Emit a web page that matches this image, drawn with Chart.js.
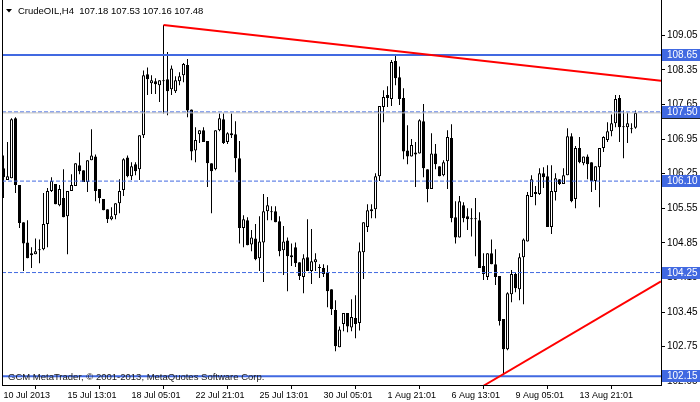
<!DOCTYPE html>
<html><head><meta charset="utf-8">
<script src="https://cdn.jsdelivr.net/npm/chart.js@4/dist/chart.umd.min.js"></script>
<style>html,body{margin:0;padding:0;background:#fff}canvas{display:block}</style>
</head><body>
<canvas id="c" width="700" height="402"></canvas>
<script>
// ---- data (H4 candles, CrudeOIL) ----
const opens = [
106.36,106.12,106.16,107.37,106.02,105.27,104.86,104.60,104.62,104.72,
104.72,105.23,105.90,106.04,105.61,105.76,105.39,105.90,106.00,106.42,
106.32,106.08,106.52,106.60,105.94,105.74,105.53,105.33,105.41,105.65,
105.92,106.58,106.20,106.44,106.34,107.03,108.26,108.08,108.12,108.04,
108.14,108.16,107.96,107.92,108.12,108.24,108.45,107.55,106.72,107.05,
107.13,106.91,106.46,106.34,107.13,107.35,106.89,107.07,107.05,106.56,
105.15,105.31,104.82,104.94,104.54,104.86,105.49,105.49,105.49,105.29,
104.70,104.90,104.60,104.76,104.46,104.16,104.56,104.28,104.46,104.36,
104.34,104.24,103.91,103.49,102.74,103.21,103.43,103.14,103.33,103.23,
104.66,105.17,105.53,105.53,106.20,107.60,107.84,107.76,108.53,108.20,
107.78,106.72,106.60,106.68,106.66,107.31,106.34,105.94,106.66,106.40,
106.22,106.50,106.97,105.37,104.96,105.61,105.39,105.35,105.35,105.31,
104.38,104.16,104.64,104.42,104.18,103.31,102.70,103.81,104.22,103.91,
104.56,104.88,105.78,105.84,105.84,106.26,106.20,105.17,105.88,106.14,
106.04,106.22,107.01,105.74,106.77,106.46,106.60,106.48,106.10,106.38,
106.77,106.93,107.11,107.27,107.78,107.21,107.19,107.17,107.18];
const highs = [
106.62,106.89,107.37,107.39,106.02,105.27,105.31,104.76,104.94,104.92,
105.86,105.96,106.18,106.04,106.02,106.34,105.90,106.24,106.46,106.68,
106.32,106.52,107.15,106.64,105.94,105.74,105.53,105.57,105.65,106.14,
106.56,106.62,106.48,106.48,107.03,108.34,108.40,108.24,108.18,108.14,
109.26,108.71,108.44,108.22,108.30,108.49,108.57,107.55,107.19,107.13,
107.19,106.91,106.46,107.13,107.47,107.47,107.09,107.47,107.31,106.91,
105.41,105.37,105.11,105.23,105.39,105.84,105.78,105.59,105.59,105.39,
105.19,104.96,104.84,104.86,104.46,104.62,105.33,105.13,104.64,104.42,
104.42,104.40,103.91,103.69,103.16,103.43,103.43,103.71,103.79,104.86,
105.27,105.63,105.63,106.26,107.62,107.94,108.02,108.55,108.63,108.42,
107.98,107.23,106.95,106.89,107.35,107.66,106.34,107.07,106.85,106.40,
106.52,107.13,107.25,105.69,105.80,105.67,105.55,105.55,105.76,105.47,
104.64,104.64,104.92,104.72,104.18,103.31,103.85,104.30,104.26,104.64,
104.94,105.88,106.22,106.00,106.36,106.38,106.42,106.42,106.26,106.14,
106.36,107.17,107.07,106.81,106.99,106.60,106.64,106.48,106.40,106.77,
107.01,107.29,107.45,107.84,107.84,107.53,107.49,107.27,107.53];
const lows = [
105.76,106.12,106.16,105.86,105.15,104.28,104.54,104.34,104.62,104.44,
104.70,104.76,105.88,105.63,105.59,105.37,104.62,105.90,106.00,106.24,
106.08,105.88,106.52,105.69,105.65,105.51,105.25,105.31,105.33,105.45,
105.80,106.18,106.12,106.22,106.12,106.97,107.84,107.86,107.86,107.70,
107.47,107.43,107.84,107.88,108.04,108.10,107.39,106.52,106.48,106.87,
106.89,105.98,105.45,106.32,107.11,106.85,106.85,106.97,106.28,104.84,
104.76,104.80,104.68,104.50,104.28,104.06,105.31,105.31,105.27,104.58,
104.20,103.87,104.38,104.36,104.10,103.83,104.28,104.02,104.28,104.14,
104.16,103.55,103.39,102.66,102.74,103.06,103.04,103.06,102.92,103.08,
104.12,105.07,105.35,105.35,106.10,107.29,107.60,107.62,108.04,107.64,
106.54,106.44,106.60,105.98,106.66,106.18,105.67,105.94,106.34,106.20,
106.20,105.94,105.27,104.84,104.96,105.27,105.11,104.98,104.58,104.34,
104.10,104.10,104.42,104.00,103.18,102.17,102.68,103.65,103.85,103.69,
103.61,104.88,105.78,105.61,105.82,105.96,105.17,105.03,105.71,106.02,
106.04,106.22,105.67,105.55,106.46,106.42,106.14,105.88,105.92,105.57,
106.69,106.89,107.01,107.19,106.89,106.56,106.87,107.07,107.16];
const closes = [
106.18,106.20,107.35,106.02,105.25,104.84,104.54,104.64,104.68,104.70,
105.23,105.90,106.10,105.63,105.94,105.37,105.90,106.02,106.46,106.30,
106.08,106.52,106.62,105.90,105.76,105.51,105.33,105.39,105.65,105.90,
106.54,106.20,106.40,106.30,107.03,108.24,108.16,108.14,108.06,108.14,
108.12,107.92,108.38,108.14,108.22,108.47,107.53,106.70,106.93,107.13,
106.89,106.46,106.30,107.13,107.37,106.87,107.07,107.03,106.56,105.15,
105.33,104.80,104.96,104.52,104.88,105.49,105.61,105.47,105.27,104.68,
104.88,104.58,104.56,104.44,104.18,104.54,104.28,104.48,104.52,104.34,
104.22,103.87,103.51,102.76,103.10,103.43,103.16,103.35,103.21,104.68,
105.27,105.51,105.49,106.20,107.62,107.80,107.78,108.51,108.18,107.76,
106.70,106.60,106.83,106.64,107.33,106.36,105.94,106.66,106.44,106.20,
106.48,106.99,105.35,104.96,105.69,105.35,105.33,105.33,105.33,104.34,
104.22,104.64,104.42,104.16,103.27,102.70,103.83,104.22,103.93,104.56,
104.92,105.82,106.14,105.88,106.26,106.18,105.17,105.90,106.16,106.04,
106.22,107.01,105.69,106.77,106.48,106.60,106.44,106.10,106.40,106.77,
106.99,107.11,107.27,107.76,107.19,107.19,107.27,107.15,107.48];

const xTickIndex  = [0, 16, 32, 48, 64, 80, 96, 112, 128, 144];
const xTickLabels = ['10 Jul 2013','15 Jul 13:01','18 Jul 05:01','22 Jul 21:01','25 Jul 13:01',
                     '30 Jul 05:01','1 Aug 21:01','6 Aug 13:01','9 Aug 05:01','13 Aug 21:01'];
const yTicks = [102.05,102.75,103.45,104.15,104.85,105.55,106.25,106.95,107.65,108.35,109.05];

const symbolName = 'CrudeOIL,H4';
const lastQuote = [107.18, 107.53, 107.16, 107.48];
const solidLevels = [108.65, 102.15];
const dashedLevels = [107.50, 106.10, 104.25];
const bidLevel = 107.48;
const trendDown = [{x: 40, y: 109.26}, {x: 164.375, y: 108.13}];
const trendUp   = [{x: 120, y: 101.96}, {x: 164.375, y: 104.07}];
const copyright = 'GCM MetaTrader, \u00a9 2001-2013, MetaQuotes Software Corp.';

// ---- chart config ----
const X_MIN = -0.375, X_MAX = 164.375, Y_MIN = 101.975, Y_MAX = 109.764;
const BLUE = '#4169e1';
const FONT = '"Liberation Sans", "DejaVu Sans", Arial, sans-serif';

const levelLine = (v, width, dash, color) => ({
  type: 'line', data: [{x: X_MIN, y: v}, {x: X_MAX, y: v}],
  borderColor: color, borderWidth: width, borderDash: dash, pointRadius: 0, order: 1, tension: 0
});

const datasets = [
  { type: 'bar', data: opens.map((_, i) => ({x: i, y: [lows[i], highs[i]]})),
    backgroundColor: '#000', borderWidth: 0, barThickness: 1, grouped: false, inflateAmount: 0, order: 3 },
  { type: 'bar', data: opens.map((o, i) => ({x: i, y: [o, closes[i]]})),
    backgroundColor: opens.map((o, i) => closes[i] >= o ? '#ffffff' : '#000000'),
    borderColor: '#000', borderWidth: 1, borderSkipped: false, barThickness: 3, grouped: false,
    minBarLength: 1, inflateAmount: 0, order: 2 },
  levelLine(bidLevel, 1, [], '#c0c0c0'),
  ...dashedLevels.map(v => levelLine(v, 1, [4, 2], BLUE)),
  ...solidLevels.map(v => levelLine(v, 2, [], BLUE)),
  { type: 'line', data: trendDown, borderColor: '#ff0000', borderWidth: 2, pointRadius: 0, order: 0 },
  { type: 'line', data: trendUp, borderColor: '#ff0000', borderWidth: 2, pointRadius: 0, order: 0 }
];

const deco = {
  id: 'deco',
  afterDraw(chart) {
    const ctx = chart.ctx, a = chart.chartArea, ys = chart.scales.y;
    ctx.save();
    // left frame
    ctx.strokeStyle = '#000'; ctx.lineWidth = 1;
    ctx.beginPath(); ctx.moveTo(a.left + 0.5, a.top); ctx.lineTo(a.left + 0.5, a.bottom); ctx.stroke();
    // header
    ctx.fillStyle = '#000';
    ctx.beginPath(); ctx.moveTo(6, 9); ctx.lineTo(12, 9); ctx.lineTo(9, 12.5); ctx.closePath(); ctx.fill();
    ctx.font = '9.5px ' + FONT; ctx.textBaseline = 'middle'; ctx.textAlign = 'left';
    ctx.fillText(symbolName + '  ' + lastQuote.map(v => v.toFixed(2)).join(' '), 18, 11);
    // copyright
    ctx.fillStyle = '#202020';
    ctx.fillText(copyright, 8, 377);
    // level labels on the price axis
    ctx.font = '10px ' + FONT;
    const box = (v, bg, fg) => {
      const y = Math.round(ys.getPixelForValue(v));
      ctx.fillStyle = bg; ctx.fillRect(662, y - 6, 38, 12);
      ctx.fillStyle = fg; ctx.fillText(v.toFixed(2), 667, y + 0.5);
    };
    box(bidLevel, '#202020', '#ffffff');
    [...solidLevels, ...dashedLevels].forEach(v => box(v, BLUE, '#ffffff'));
    ctx.restore();
  }
};

new Chart(document.getElementById('c'), {
  type: 'bar',
  data: { datasets },
  options: {
    responsive: false, animation: false, devicePixelRatio: 1, events: [],
    layout: { padding: { left: 2, top: 0, right: 0, bottom: 0 } },
    plugins: { legend: { display: false }, tooltip: { enabled: false } },
    scales: {
      x: {
        type: 'linear', min: X_MIN, max: X_MAX, offset: false,
        afterBuildTicks: ax => { ax.ticks = xTickIndex.map(v => ({value: v})); },
        afterFit: ax => { ax.height = 17; ax.paddingLeft = 0; ax.paddingRight = 0; },
        ticks: { autoSkip: false, maxRotation: 0, minRotation: 0, align: 'start', padding: 1,
                 color: '#000', font: { family: FONT, size: 9 },
                 callback: (v, i) => xTickLabels[i] },
        grid: { display: true, drawOnChartArea: false, drawTicks: true, tickLength: 4, color: '#000' },
        border: { display: true, color: '#000', width: 1 }
      },
      y: {
        type: 'linear', position: 'right', min: Y_MIN, max: Y_MAX,
        afterBuildTicks: ax => { ax.ticks = yTicks.map(v => ({value: v})); },
        afterFit: ax => { ax.width = 39; ax.paddingTop = 0; ax.paddingBottom = 0; },
        ticks: { padding: 2, color: '#000', font: { family: FONT, size: 10 },
                 callback: v => Number(v).toFixed(2) },
        grid: { display: true, drawOnChartArea: false, drawTicks: true, tickLength: 4, color: '#000' },
        border: { display: true, color: '#000', width: 1 }
      }
    }
  },
  plugins: [deco]
});
</script>
</body></html>
